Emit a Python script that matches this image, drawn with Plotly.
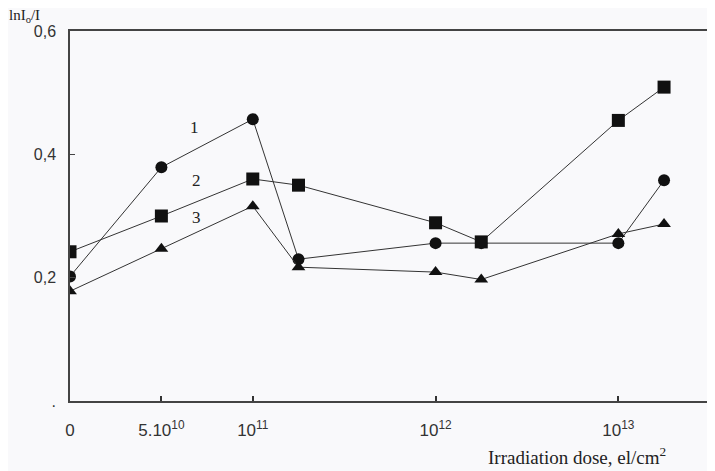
import plotly.graph_objects as go

# dose positions on the (non-uniform) axis of the figure, and tick labels
dose_pos = [0, 1, 2, 2.5, 4, 4.5, 6, 6.5]
tick_pos = [0, 1, 2, 4, 6]
tick_txt = ["0", "5.10<sup>10</sup>", "10<sup>11</sup>", "10<sup>12</sup>", "10<sup>13</sup>"]

curve1 = [0.202, 0.379, 0.457, 0.230, 0.256, 0.256, 0.256, 0.358]  # circles
curve2 = [0.242, 0.300, 0.360, 0.350, 0.289, 0.258, 0.455, 0.509]  # squares
curve3 = [0.178, 0.247, 0.316, 0.217, 0.209, 0.197, 0.271, 0.287]  # triangles

y_ticks = [0, 0.2, 0.4, 0.6]
y_txt = [".", "0,2", "0,4", "0,6"]

bg = "#f9f9fb"
serif = "Liberation Serif"
sans = "Liberation Sans"

fig = go.Figure()
line = dict(color="#333333", width=1)
fig.add_trace(go.Scatter(x=dose_pos, y=curve1, mode="lines+markers", line=line,
                         marker=dict(symbol="circle", size=12, color="#111111")))
fig.add_trace(go.Scatter(x=dose_pos, y=curve3, mode="lines+markers", line=line,
                         marker=dict(symbol="triangle-up", size=12, color="#111111")))
fig.add_trace(go.Scatter(x=dose_pos, y=curve2, mode="lines+markers", line=line,
                         marker=dict(symbol="square", size=13, color="#111111")))

for txt, xx, yy in [("1", 1.36, 0.444), ("2", 1.38, 0.358), ("3", 1.38, 0.298)]:
    fig.add_annotation(x=xx, y=yy, text=txt, showarrow=False,
                       font=dict(family=serif, size=17, color="#222222"))

# page has an 8px body margin, so the figure is 707x463 and sits at (8, 8)
fig.add_annotation(xref="paper", yref="paper", x=-0.0975, y=1.041, xanchor="left", yanchor="middle",
                   text="lnI<sub>o</sub>/I", showarrow=False, borderpad=0,
                   font=dict(family=serif, size=15, color="#222222"))
fig.add_annotation(xref="paper", yref="paper", x=0.653, y=-0.15, xanchor="left", yanchor="middle",
                   text="Irradiation dose, el/cm<sup>2</sup>", showarrow=False,
                   font=dict(family=serif, size=19, color="#222222"))

fig.update_xaxes(range=[0, 6.97], tickvals=tick_pos, ticktext=tick_txt, ticks="inside",
                 ticklen=5, tickwidth=2, tickcolor="#333333", showgrid=False, zeroline=False,
                 showline=True, linecolor="#444444", linewidth=1.5, mirror=True, automargin=False,
                 ticklabelstandoff=13, tickfont=dict(family=sans, size=17, color="#333333"))
fig.update_yaxes(range=[0, 0.6], tickvals=y_ticks, ticktext=y_txt, ticks="inside",
                 ticklen=5, tickwidth=1, tickcolor="#444444", showgrid=False, zeroline=False,
                 showline=True, linecolor="#444444", linewidth=1.5, mirror=True, automargin=False,
                 ticklabelstandoff=9, tickfont=dict(family=sans, size=16, color="#333333"))

fig.update_layout(width=707, height=463, showlegend=False,
                  margin=dict(l=62, r=8, t=23, b=70, autoexpand=False),
                  paper_bgcolor=bg, plot_bgcolor=bg)

fig.write_html("out.html")
